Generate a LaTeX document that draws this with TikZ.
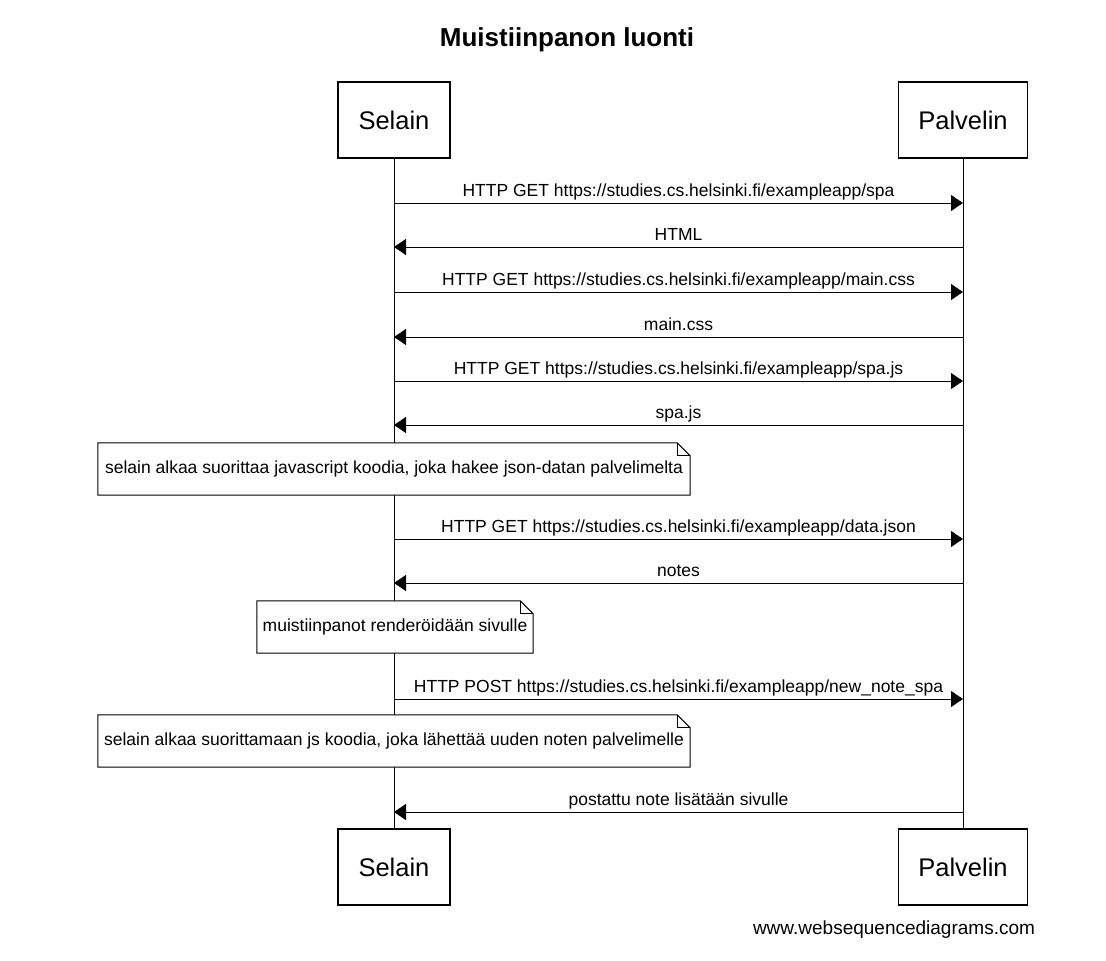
\documentclass[tikz,border=0pt]{standalone}
\usepackage{fontspec}
\setmainfont{Liberation Sans}
\usetikzlibrary{arrows.meta}
\tikzset{
  x=1pt, y=-1pt,
  actor/.style={draw, line width=1.2pt, fill=white, minimum width=#1, minimum height=76pt, inner sep=0pt,
    font=\fontsize{25.5}{28}\selectfont},
  life/.style={line width=1pt},
  msg/.style={line width=1pt, -{Triangle[length=12pt,width=16pt]}},
  lbl/.style={anchor=base, yshift=7pt, inner sep=0pt, font=\fontsize{17.5}{20}\selectfont},
  notebox/.style={minimum width=#1, minimum height=52pt, inner sep=0pt, font=\fontsize{17.5}{20}\selectfont},
}
\newcommand{\notefold}[1]{%
  \draw[line width=1pt, fill=white] (#1.south west) -- (#1.north west) -- ([xshift=-13pt]#1.north east)
    -- ([yshift=-13pt]#1.north east) -- (#1.south east) -- cycle;
  \draw[line width=1pt] ([xshift=-13pt]#1.north east) |- ([yshift=-13pt]#1.north east);
}
\begin{document}
\begin{tikzpicture}
\useasboundingbox[fill=white] (0,0) rectangle (1106,961);
\node[font=\bfseries\fontsize{26}{30}\selectfont] (title) at (567,40) {Muistiinpanon luonti};

\node[actor=112pt] (s1) at (394,120) {Selain};
\node[actor=129pt] (p1) at (963,120) {Palvelin};
\node[actor=112pt] (s2) at (394,867) {Selain};
\node[actor=129pt] (p2) at (963,867) {Palvelin};
\draw[life] (s1.south) -- (s2.north);
\draw[life] (p1.south) -- (p2.north);

% message points
\foreach \i/\y in {1/203,2/247,3/292,4/337,5/381,6/425,7/539,8/583,9/699,10/812}{
  \coordinate (a\i) at (394,\y);
  \coordinate (b\i) at (963,\y);
}
\draw[msg] (a1) -- node[lbl]{HTTP GET https://studies.cs.helsinki.fi/exampleapp/spa} (b1);
\draw[msg] (b2) -- node[lbl]{HTML} (a2);
\draw[msg] (a3) -- node[lbl]{HTTP GET https://studies.cs.helsinki.fi/exampleapp/main.css} (b3);
\draw[msg] (b4) -- node[lbl]{main.css} (a4);
\draw[msg] (a5) -- node[lbl]{HTTP GET https://studies.cs.helsinki.fi/exampleapp/spa.js} (b5);
\draw[msg] (b6) -- node[lbl]{spa.js} (a6);

\node[notebox=592pt] (n1) at (394,469) {};
\notefold{n1}
\node[font=\fontsize{17.5}{20}\selectfont] (n1t) at (n1.center) {selain alkaa suorittaa javascript koodia, joka hakee json-datan palvelimelta};

\draw[msg] (a7) -- node[lbl]{HTTP GET https://studies.cs.helsinki.fi/exampleapp/data.json} (b7);
\draw[msg] (b8) -- node[lbl]{notes} (a8);

\node[notebox=276pt] (n2) at (395,627) {};
\notefold{n2}
\node[font=\fontsize{17.5}{20}\selectfont] (n2t) at (n2.center) {muistiinpanot renderöidään sivulle};

\draw[msg] (a9) -- node[lbl]{HTTP POST https://studies.cs.helsinki.fi/exampleapp/new\_note\_spa} (b9);

\node[notebox=592pt] (n3) at (394,741) {};
\notefold{n3}
\node[font=\fontsize{17.5}{20}\selectfont] (n3t) at (n3.center) {selain alkaa suorittamaan js koodia, joka lähettää uuden noten palvelimelle};

\draw[msg] (b10) -- node[lbl]{postattu note lisätään sivulle} (a10);

\node[font=\fontsize{19}{22}\selectfont] (foot) at (894,930) {www.websequencediagrams.com};
\end{tikzpicture}
\end{document}
